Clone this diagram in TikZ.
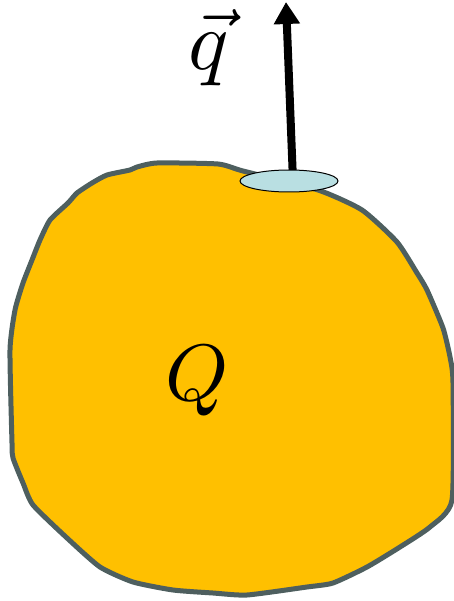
\documentclass[tikz,border=0pt]{standalone}
\usepackage{graphicx}
\usetikzlibrary{arrows.meta,shapes.geometric}
\definecolor{blobfill}{HTML}{FFC000}
\definecolor{blobline}{HTML}{4E5F5F}
\definecolor{patch}{HTML}{B9DFE2}
\pgfdeclarelayer{mid}
\pgfdeclarelayer{bottom}
\pgfsetlayers{bottom,mid,main}
\tikzset{
  blob/.style={fill=blobfill, draw=blobline, line width=5pt, line join=round},
  patchstyle/.style={ellipse, fill=patch, draw=black, line width=1pt, minimum width=98pt, minimum height=22pt, inner sep=0pt},
  flux/.style={line width=8pt, -{Triangle[length=22pt,width=25pt]}},
  bigmath/.style={inner sep=0pt}
}
\begin{document}
\begin{tikzpicture}[x=1pt,y=-1pt]
\useasboundingbox (0,0) rectangle (454,601);
\begin{pgfonlayer}{bottom}
\draw[blob] plot[smooth cycle, tension=0.35] coordinates {
 (157,163) (218,164) (243,171) (318,190) (362,210) (397,242) (417,273) (427,290)
 (443,328) (450,357) (453,383) (452,500) (430,527) (400,547) (367,567) (333,583)
 (307,587) (247,595) (213,593) (173,590) (133,582) (100,567) (67,538) (33,505)
 (23,483) (13,458) (12,443) (10,350) (15,310) (23,283) (32,260) (40,240) (50,220)
 (68,203) (77,193) (92,183) (107,175) (130,170) (137,167)};
\end{pgfonlayer}
\coordinate (tip) at (286,2);
\node[patchstyle] (e) at (289,181) {};
\begin{pgfonlayer}{mid}
\draw[flux] ([xshift=4pt]e.center) -- (tip);
\end{pgfonlayer}
\node[bigmath] (Q) at (197,381) {\scalebox{8.0}{$Q$}};
\node[bigmath, anchor=base] (q) at (209,70) {\scalebox{8.4}{$\vec{q}$}};
\end{tikzpicture}
\end{document}
